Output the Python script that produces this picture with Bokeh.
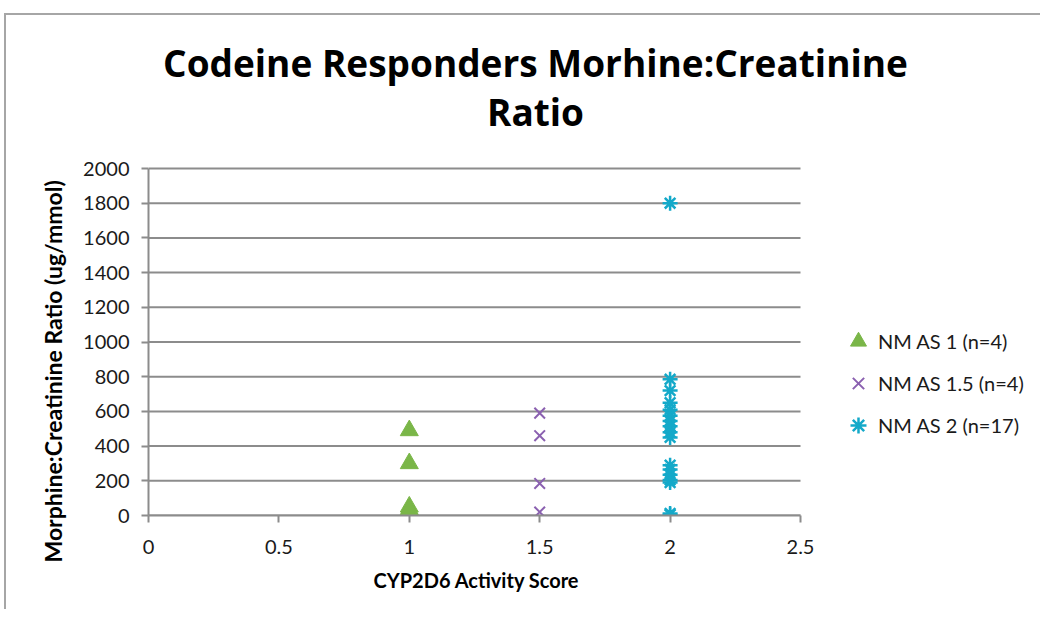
from bokeh.plotting import figure
from bokeh.models import Legend, LegendItem, FixedTicker, ColumnDataSource, Title, Label
from bokeh.embed import file_html
from bokeh.resources import INLINE

# ---- data ----
as1_x = [1, 1, 1, 1]
as1_y = [490, 300, 50, 35]
as15_x = [1.5, 1.5, 1.5, 1.5]
as15_y = [590, 460, 185, 20]
as2_x = [2] * 17
as2_y = [1800, 785, 720, 650, 610, 575, 545, 515, 480, 450, 290, 265, 235, 205, 190, 12, 5]

series_names = ["NM AS 1 (n=4)", "NM AS 1.5 (n=4)", "NM AS 2 (n=17)"]
x_ticks = [0, 0.5, 1, 1.5, 2, 2.5]
y_ticks = [0, 200, 400, 600, 800, 1000, 1200, 1400, 1600, 1800, 2000]
title_lines = ["Codeine Responders Morhine:Creatinine", "Ratio"]
x_label = "CYP2D6 Activity Score"
y_label = "Morphine:Creatinine  Ratio (ug/mmol)"

FONT = "Lato"
TFONT = "Open Sans"
GRID = "#8c8c8c"

X_MAX, Y_MAX = 2.5, 2000

# ---- layout (canvas pixels; canvas starts at page (6, 15)) ----
W, H = 1036, 596
OX, OY = 6, 15
fl, fb = 142, 500            # frame left / bottom
axis_right, axis_top = 794, 153   # where X_MAX / Y_MAX fall
mbr = 0
fr = W - mbr
ppx = (axis_right - fl) / X_MAX   # px per x unit
ppy = (fb - axis_top) / Y_MAX     # px per y unit
x_end = (fr - fl) / ppx
y_end = fb / ppy

p = figure(width=W, height=H, output_backend="svg", toolbar_location=None,
           x_range=(0, x_end), y_range=(0, y_end), title_location=None,
           min_border_left=fl, min_border_right=mbr,
           min_border_top=0, min_border_bottom=H - fb)
p.styles = {"border-top": "2px solid #a6a6a6", "border-left": "2px solid #a6a6a6",
            "margin-top": "13px", "margin-left": "4px"}
p.outline_line_color = None
p.background_fill_color = "white"
p.border_fill_color = "white"
p.xgrid.visible = False
p.ygrid.visible = False

# horizontal gridlines at the y ticks, across the x axis extent
p.segment(x0=[0] * len(y_ticks), x1=[X_MAX] * len(y_ticks), y0=y_ticks, y1=y_ticks,
          line_color=GRID, line_width=2)

for ax in (p.xaxis[0], p.yaxis[0]):
    ax.axis_line_color = GRID
    ax.axis_line_width = 2
    ax.major_tick_line_color = GRID
    ax.major_tick_line_width = 2
    ax.major_tick_in = 0
    ax.major_tick_out = 7
    ax.minor_tick_line_color = None
    ax.major_label_text_font = FONT
    ax.major_label_text_font_size = "20px"
    ax.major_label_text_color = "#1a1a1a"
p.xaxis.bounds = (0, X_MAX)
p.yaxis.bounds = (0, Y_MAX)
p.xaxis.ticker = FixedTicker(ticks=x_ticks)
p.yaxis.ticker = FixedTicker(ticks=y_ticks)
p.xaxis.major_label_overrides = {0: "0", 0.5: "0.5", 1: "1", 1.5: "1.5", 2: "2", 2.5: "2.5"}
p.xaxis.major_label_standoff = 17
p.yaxis.major_label_standoff = 12

src1 = ColumnDataSource(dict(x=as1_x, y=as1_y))
src2 = ColumnDataSource(dict(x=as15_x, y=as15_y))
src3 = ColumnDataSource(dict(x=as2_x, y=as2_y))

r1 = p.scatter("x", "y", source=src1, marker="triangle", size=18,
               fill_color="#7ab648", line_color="#7ab648", line_width=1)
r2 = p.scatter("x", "y", source=src2, marker="x", size=15,
               line_color="#8a60b0", line_width=2)
r3 = p.scatter("x", "y", source=src3, marker="asterisk", size=15,
               line_color="#14a9c9", line_width=2.5)

legend = Legend(items=[LegendItem(label=series_names[0], renderers=[r1]),
                       LegendItem(label=series_names[1], renderers=[r2]),
                       LegendItem(label=series_names[2], renderers=[r3])],
                location=(690, 70), orientation="vertical",
                label_text_font=FONT, label_text_font_size="20px",
                label_text_color="#1a1a1a",
                glyph_width=40, glyph_height=40, label_height=40,
                spacing=2, padding=0, margin=0, label_standoff=-7,
                border_line_color=None, background_fill_alpha=0)
p.add_layout(legend, "center")

# title: two centred lines (page x 535, page y 62 / 111)
tx = (535 - OX - fl) / ppx
for line, py in zip(title_lines, [62, 111]):
    p.add_layout(Label(x=tx, y=(fb - (py - OY)) / ppy, text=line,
                       text_align="center", text_baseline="middle",
                       text_font=TFONT, text_font_style="bold", text_font_size="37px",
                       text_color="#000000"))

# x axis label as a title below, centred under the axis extent
p.add_layout(Title(text=x_label, align="left", offset=225,
                   vertical_align="bottom", standoff=18,
                   text_font=FONT, text_font_style="bold", text_font_size="20px",
                   text_color="#000000"), "below")

# y axis label as a side title
p.add_layout(Title(text=y_label, align="left", offset=-47,
                   vertical_align="top", standoff=24,
                   text_font=FONT, text_font_style="bold", text_font_size="23px",
                   text_color="#000000"), "left")

open("out.html", "w").write(file_html(p, INLINE))
